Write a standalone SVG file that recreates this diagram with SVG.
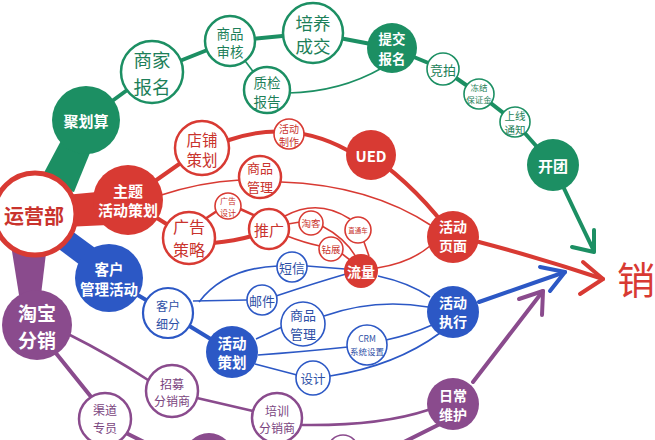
<svg xmlns="http://www.w3.org/2000/svg" width="655" height="440" viewBox="0 0 655 440">
<style>
text{font-family:"Noto Sans CJK SC","Noto Sans",sans-serif;text-anchor:middle;dominant-baseline:central}
.gf{fill:#1c8f63}
.go{fill:#fff;stroke:#1c8f63;stroke-width:2.5}
.gs{fill:#fff;stroke:#1c8f63;stroke-width:1.6}
.gt{fill:#1d7f59}
.rf{fill:#d83a33}
.ro{fill:#fff;stroke:#d83a33;stroke-width:2.5}
.rs{fill:#fff;stroke:#d83a33;stroke-width:1.6}
.rt{fill:#c9332d}
.bf{fill:#2c58c5}
.bo{fill:#fff;stroke:#2c58c5;stroke-width:2.2}
.bs{fill:#fff;stroke:#2c58c5;stroke-width:1.6}
.bt{fill:#2d4fa6}
.pf{fill:#8a4b8d}
.po{fill:#fff;stroke:#8a4b8d;stroke-width:2.5}
.ps{fill:#fff;stroke:#8a4b8d;stroke-width:1.6}
.pt{fill:#7a4480}
.w{fill:#fff;font-weight:bold}
.thin{fill:none;stroke-width:1.6}
.mid{fill:none;stroke-width:2.6;stroke-linecap:round}
.thick{fill:none;stroke-width:4;stroke-linecap:round;stroke-linejoin:round}
.lg{stroke:#1c8f63}.lr{stroke:#d83a33}.lb{stroke:#2c58c5}.lp{stroke:#8a4b8d}
</style>
<rect width="655" height="440" fill="#fff"/>
<g id="connectors">
<polygon points="38,184 64,135 94,143 74,192" fill="#1c8f63"/>
<polygon points="65,195 108,191 108,225 65,227" fill="#d83a33"/>
<polygon points="61,223 102,253 88,271 48,241" fill="#2c58c5"/>
<polygon points="11,245 47,245 41,295 19,295" fill="#8a4b8d"/>
<line x1="86" y1="120" x2="152" y2="72" class="thick lg" stroke-width="5"/>
<line x1="152" y1="72" x2="230" y2="41" class="thick lg"/>
<line x1="230" y1="41" x2="313" y2="33" class="thick lg"/>
<line x1="313" y1="33" x2="392" y2="48" class="thick lg" stroke-width="3.5"/>
<line x1="230" y1="41" x2="267" y2="90" class="thin lg"/>
<path d="M288,93 Q340,92 382,68" class="thin lg"/>
<polyline points="392,48 443,69 479,94 515,122 553,165" class="thick lg"/>
<path d="M553,165 Q575,212 594,251" class="thick lg"/>
<polyline points="572,247 594,252 594,230" class="thick lg"/>
<line x1="128" y1="200" x2="202" y2="148" class="thick lr"/>
<path d="M229,140 Q290,119 347,150" class="thick lr" stroke-width="3.5"/>
<path d="M371,155 Q420,190 453,237" class="thick lr"/>
<path d="M158,196 Q200,182 240,180" class="thin lr"/>
<path d="M281,182 Q370,185 432,226" class="thin lr"/>
<line x1="128" y1="200" x2="189" y2="238" class="thick lr"/>
<line x1="205" y1="219" x2="220" y2="209" class="mid lr" stroke-width="2"/>
<line x1="238" y1="208" x2="258" y2="217" class="mid lr" stroke-width="3"/>
<path d="M213,243 Q235,241 252,236" class="thick lr"/>
<line x1="288" y1="224" x2="300" y2="222" class="thin lr"/>
<path d="M285,216 Q318,198 350,219" class="thin lr"/>
<path d="M322,226 Q345,238 356,257" class="thin lr"/>
<path d="M287,236 Q305,243 320,246" class="thin lr"/>
<line x1="341" y1="253" x2="350" y2="260" class="thin lr"/>
<line x1="364" y1="242" x2="369" y2="256" class="thin lr"/>
<path d="M377,268 Q410,263 430,246" class="thin lr"/>
<path d="M479,242 Q540,258 603,279" class="thick lr"/>
<polyline points="583,262 603,279 580,294" class="thick lr"/>
<line x1="109" y1="278" x2="168" y2="313" class="thick lb"/>
<line x1="168" y1="313" x2="232" y2="352" class="thick lb"/>
<path d="M199,302 Q225,268 278,266" class="thin lb"/>
<line x1="307" y1="266" x2="345" y2="269" class="thin lb"/>
<line x1="193" y1="301" x2="247" y2="300" class="thin lb"/>
<path d="M276,296 Q315,283 346,274" class="thin lb"/>
<path d="M378,276 Q410,283 430,297" class="thin lb"/>
<line x1="256" y1="339" x2="282" y2="327" class="thin lb"/>
<path d="M324,316 Q375,298 428,307" class="thin lb"/>
<path d="M258,355 Q300,352 348,347" class="thin lb"/>
<path d="M386,340 Q410,335 432,325" class="thin lb"/>
<line x1="255" y1="364" x2="297" y2="375" class="thin lb"/>
<path d="M330,376 Q395,366 440,333" class="thin lb"/>
<line x1="479" y1="302" x2="565" y2="272" class="thick lb"/>
<polyline points="540,267 565,272 550,291" class="thick lb"/>
<path d="M68,334 Q110,355 148,380" class="mid lp" stroke-width="2"/>
<line x1="197" y1="398" x2="253" y2="411" class="mid lp" stroke-width="2"/>
<path d="M302,425 Q380,426 428,410" class="mid lp" stroke-width="2"/>
<line x1="55" y1="352" x2="92" y2="398" class="thick lp"/>
<line x1="120" y1="430" x2="160" y2="450" class="thick lp"/>
<line x1="440" y1="424" x2="392" y2="448" class="thick lp"/>
<line x1="473" y1="382" x2="543" y2="291" class="thick lp"/>
<polyline points="519,299 543,291 542,315" class="thick lp"/>
</g>
<g id="n-juhuasuan"><circle cx="86" cy="120" r="34" class="gf"/><text x="86" y="120" class="w" font-size="15">聚划算</text></g>
<g id="n-shangjia"><circle cx="152" cy="72" r="31" class="go"/><text class="gt" font-size="18.5"><tspan x="152" y="58.5">商家</tspan><tspan x="152" y="85.5">报名</tspan></text></g>
<g id="n-shenhe"><circle cx="230" cy="41" r="25" class="go"/><text class="gt" font-size="13.5"><tspan x="230" y="32.5">商品</tspan><tspan x="230" y="51">审核</tspan></text></g>
<g id="n-peiyang"><circle cx="313" cy="33" r="30" class="go"/><text class="gt" font-size="17.5"><tspan x="313" y="21.5">培养</tspan><tspan x="313" y="44.5">成交</tspan></text></g>
<g id="n-zhijian"><circle cx="267" cy="90" r="23" class="go"/><text class="gt" font-size="13.5"><tspan x="267" y="81.5">质检</tspan><tspan x="267" y="100.5">报告</tspan></text></g>
<g id="n-tijiao"><circle cx="392" cy="48" r="25" class="gf"/><text class="w" font-size="13.5"><tspan x="392" y="38.2">提交</tspan><tspan x="392" y="57.8">报名</tspan></text></g>
<g id="n-jingpai"><circle cx="443" cy="69" r="16" class="gs"/><text x="443" y="69" class="gt" font-size="13">竞拍</text></g>
<g id="n-dongjie"><circle cx="479" cy="94" r="15" class="gs"/><text class="gt" font-size="8.5"><tspan x="479" y="87">冻结</tspan><tspan x="479" y="99">保证金</tspan></text></g>
<g id="n-shangxian"><circle cx="515" cy="122" r="15" class="gs"/><text class="gt" font-size="10.5"><tspan x="515" y="115">上线</tspan><tspan x="515" y="129">通知</tspan></text></g>
<g id="n-kaituan"><circle cx="553" cy="165" r="26" class="gf"/><text x="553" y="165" class="w" font-size="15">开团</text></g>
<g id="n-yunying"><circle cx="35" cy="214" r="41" fill="#fff" stroke="#d83a33" stroke-width="5"/><text x="34" y="215" class="rt" font-size="20" font-weight="bold">运营部</text></g>
<g id="n-zhuti"><circle cx="128" cy="200" r="35" class="rf"/><text class="w" font-size="15"><tspan x="128" y="189.5">主题</tspan><tspan x="128" y="208.5">活动策划</tspan></text></g>
<g id="n-dianpu"><circle cx="202" cy="148" r="27" class="ro"/><text class="rt" font-size="15.5"><tspan x="202" y="138.5">店铺</tspan><tspan x="202" y="158.5">策划</tspan></text></g>
<g id="n-zhizuo"><circle cx="289" cy="134" r="15" class="rs"/><text class="rt" font-size="10"><tspan x="289" y="127.5">活动</tspan><tspan x="289" y="141">制作</tspan></text></g>
<g id="n-ued"><circle cx="371" cy="155" r="25" class="rf"/><text x="371" y="155" class="w" font-size="15">UED</text></g>
<g id="n-spgl-r"><circle cx="260" cy="177" r="21" class="ro"/><text class="rt" font-size="13"><tspan x="260" y="167">商品</tspan><tspan x="260" y="186">管理</tspan></text></g>
<g id="n-ggsj"><circle cx="228" cy="206" r="13" class="rs"/><text class="rt" font-size="8"><tspan x="228" y="200">广告</tspan><tspan x="228" y="212">设计</tspan></text></g>
<g id="n-ggcl"><circle cx="189" cy="238" r="26" class="ro"/><text class="rt" font-size="16"><tspan x="189" y="226">广告</tspan><tspan x="189" y="248.5">策略</tspan></text></g>
<g id="n-tuiguang"><circle cx="269" cy="229" r="20" class="ro"/><text x="269" y="229" class="rt" font-size="15">推广</text></g>
<g id="n-taoke"><circle cx="311" cy="223" r="12" class="rs"/><text x="311" y="223" class="rt" font-size="9.5">淘客</text></g>
<g id="n-zuanzhan"><circle cx="331" cy="249" r="12" class="rs"/><text x="331" y="249" class="rt" font-size="9.5">钻展</text></g>
<g id="n-ztc"><circle cx="358" cy="230" r="13" class="rs"/><text x="358" y="230" class="rt" font-size="6.5">直通车</text></g>
<g id="n-liuliang"><circle cx="361" cy="271" r="17" class="rf"/><text x="361" y="271" class="w" font-size="14">流量</text></g>
<g id="n-yemian"><circle cx="453" cy="237" r="26" class="rf"/><text class="w" font-size="14"><tspan x="453" y="226">活动</tspan><tspan x="453" y="245">页面</tspan></text></g>
<g id="n-kehu"><circle cx="109" cy="278" r="34" class="bf"/><text class="w" font-size="14.5"><tspan x="109" y="267.5">客户</tspan><tspan x="109" y="287.5">管理活动</tspan></text></g>
<g id="n-xifen"><circle cx="168" cy="313" r="25" class="bo"/><text class="bt" font-size="12"><tspan x="168" y="304.5">客户</tspan><tspan x="168" y="322.5">细分</tspan></text></g>
<g id="n-duanxin"><circle cx="292" cy="267" r="15" class="bs"/><text x="292" y="267" class="bt" font-size="13">短信</text></g>
<g id="n-youjian"><circle cx="262" cy="300" r="15" class="bs"/><text x="262" y="300" class="bt" font-size="13">邮件</text></g>
<g id="n-spgl-b"><circle cx="303" cy="324" r="22" class="bs"/><text class="bt" font-size="13"><tspan x="303" y="314">商品</tspan><tspan x="303" y="333">管理</tspan></text></g>
<g id="n-chdh"><circle cx="232" cy="352" r="26" class="bf"/><text class="w" font-size="14.5"><tspan x="232" y="341.5">活动</tspan><tspan x="232" y="360.5">策划</tspan></text></g>
<g id="n-crm"><circle cx="367" cy="345" r="20" class="bs"/><text class="bt" font-size="8.5"><tspan x="367" y="338">CRM</tspan><tspan x="367" y="351">系统设置</tspan></text></g>
<g id="n-sheji"><circle cx="313" cy="378" r="17" class="bs"/><text x="313" y="378" class="bt" font-size="12.5">设计</text></g>
<g id="n-zhixing"><circle cx="453" cy="312" r="26" class="bf"/><text class="w" font-size="14"><tspan x="453" y="302">活动</tspan><tspan x="453" y="321">执行</tspan></text></g>
<g id="n-taobao"><circle cx="37" cy="325" r="35" class="pf"/><text class="w" font-size="19"><tspan x="37" y="311.5">淘宝</tspan><tspan x="37" y="338.5">分销</tspan></text></g>
<g id="n-qudao"><circle cx="105" cy="419" r="26" class="po"/><text class="pt" font-size="12"><tspan x="105" y="409">渠道</tspan><tspan x="105" y="427">专员</tspan></text></g>
<g id="n-zhaomu"><circle cx="172" cy="391" r="26" class="po"/><text class="pt" font-size="12"><tspan x="172" y="382.5">招募</tspan><tspan x="172" y="400">分销商</tspan></text></g>
<g id="n-peixun"><circle cx="277" cy="418" r="25" class="po"/><text class="pt" font-size="12"><tspan x="277" y="409.5">培训</tspan><tspan x="277" y="427">分销商</tspan></text></g>
<g id="n-richang"><circle cx="453" cy="404" r="26" class="pf"/><text class="w" font-size="14"><tspan x="453" y="394.5">日常</tspan><tspan x="453" y="414">维护</tspan></text></g>
<g id="n-bottom1"><circle cx="209" cy="458" r="25" class="pf"/></g>
<g id="n-bottom2"><circle cx="343" cy="450" r="15" class="ps"/></g>
<g id="label-xiao"><text x="636" y="277" font-size="38" fill="#d83a33">销</text></g>
</svg>
